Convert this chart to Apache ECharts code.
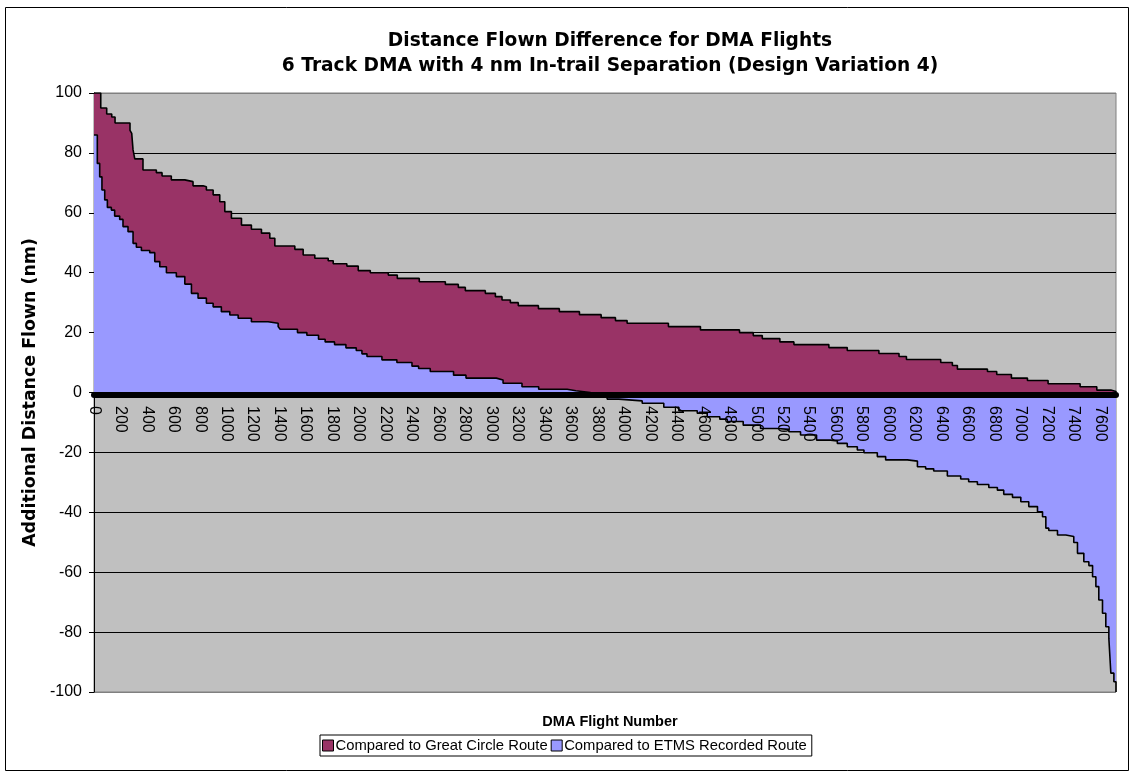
<!DOCTYPE html>
<html>
<head>
<meta charset="utf-8">
<script src="https://cdn.jsdelivr.net/npm/echarts@6/dist/echarts.min.js"></script>
<style>
  html, body { margin: 0; padding: 0; background: #fff; }
  #chart { width: 1138px; height: 778px; }
</style>
</head>
<body>
<div id="chart"></div>
<script>
// step corners: flight number -> additional distance (nm)
const gcFlights = [0, 51, 96, 134, 159, 272, 285, 295, 308, 370, 471, 514, 584, 686, 748, 824, 849, 900, 950, 988,
  1038, 1114, 1189, 1265, 1328, 1366, 1517, 1580, 1668, 1769, 1807, 1910, 1996, 2087, 2223, 2291, 2457, 2654, 2752, 2805,
  2956, 3032, 3082, 3145, 3205, 3357, 3515, 3667, 3831, 3939, 4027, 4339, 4581, 4876, 4980, 5048, 5181, 5287, 5551, 5690,
  5929, 6081, 6137, 6396, 6484, 6522, 6749, 6819, 6930, 7051, 7207, 7449, 7575, 7681, 7720];
const gcValues = [100, 95, 93, 92, 90, 87.5, 86.5, 81, 78, 74.3, 73.4, 72.3, 71, 70.4, 69, 68.7, 67.6, 66, 63.7, 60.4,
  58.2, 55.9, 54.5, 53.2, 51.5, 48.9, 47.8, 45.9, 44.8, 44, 43, 42.2, 40.7, 40, 39.2, 38.1, 37, 36.1, 35.1, 34,
  33.1, 32, 30.9, 30, 29, 28, 27, 26, 25, 24, 23.1, 22, 20.9, 20, 19, 18, 16.9, 16, 15, 14,
  13, 12, 11, 10, 9, 7.8, 7, 6, 4.8, 4, 2.9, 1.9, 0.8, 0.3, 0];

const etmsFlights = [0, 25, 43, 60, 81, 101, 131, 156, 194, 219, 257, 295, 320, 358, 421, 459, 497, 547, 622, 686,
  736, 786, 849, 900, 962, 1026, 1089, 1189, 1315, 1391, 1406, 1537, 1608, 1696, 1746, 1817, 1903, 1981, 2024, 2062,
  2175, 2288, 2402, 2452, 2540, 2716, 2810, 3039, 3090, 3233, 3359, 3574, 3640, 3750, 3876, 3964, 4141, 4304, 4418, 4557,
  4632, 4727, 4783, 4904, 5035, 5161, 5249, 5337, 5458, 5564, 5615, 5690, 5766, 5816, 5917, 5980, 6144, 6220, 6282, 6343,
  6446, 6547, 6607, 6673, 6759, 6824, 6872, 6938, 7001, 7061, 7127, 7165, 7190, 7212, 7278, 7341, 7401, 7429, 7477, 7515,
  7543, 7568, 7590, 7618, 7643, 7666, 7681, 7704, 7720];
const etmsValues = [86, 76.5, 72, 67.6, 64.3, 61.8, 60.9, 58.9, 57.8, 55.4, 53.7, 49.8, 48.5, 47.4, 46.7, 43.7, 42, 40, 38.7, 36.2,
  33.1, 31.5, 29.8, 28.6, 27, 25.9, 24.8, 23.6, 23.1, 22, 21.1, 20, 19.1, 17.8, 16.9, 16, 14.9, 14, 12.9, 12,
  10.9, 10, 8.8, 8, 7, 5.8, 4.8, 4.2, 3.1, 1.9, 1.1, 0.6, 0, -1, -2.2, -2.8, -3.6, -4.9, -6.1, -6.9,
  -8.1, -8.9, -9.7, -10.9, -12, -12.3, -13.1, -14.2, -15.9, -16.2, -17, -18.1, -19.2, -20.1, -21.4, -22.5, -22.9, -24.8, -25.5, -26.2,
  -27.9, -28.9, -29.8, -30.7, -31.7, -32.6, -34, -35, -36.5, -38.1, -39.8, -41.5, -45.3, -46.1, -47.6, -48.1, -50.1, -53.7, -56.5, -57.8,
  -61.5, -64.8, -69.3, -73.7, -78.2, -82.1, -93.7, -96.6, -100];

const seriesNames = ['Compared to Great Circle Route', 'Compared to ETMS Recorded Route'];
const flightMax = 7720;

const font = '"Liberation Sans", Arial, sans-serif';
const wideFont = '"DejaVu Sans", "Liberation Sans", Arial, sans-serif';
const chart = echarts.init(document.getElementById('chart'));

const pairs = (xs, ys) => xs.map((x, i) => [x, ys[i]]);

// gray plot edge at -100 and 100, black gridlines between
const gridColors = ['#808080', '#000', '#000', '#000', '#000', '#000', '#000', '#000', '#000', '#000', '#808080'];

const option = {
  backgroundColor: '#ffffff',
  animation: false,
  textStyle: { fontFamily: font },
  title: [
    {
      text: 'Distance Flown Difference for DMA Flights\n6 Track DMA with 4 nm In-trail Separation (Design Variation 4)',
      left: 605,
      top: 24,
      textAlign: 'center',
      textStyle: { fontFamily: wideFont, fontSize: 18.6, fontWeight: 'bold', color: '#000', lineHeight: 25 }
    },
    {
      text: 'DMA Flight Number',
      left: 605,
      top: 709,
      textAlign: 'center',
      textStyle: { fontFamily: font, fontSize: 14.5, fontWeight: 'bold', color: '#000' }
    }
  ],
  legend: {
    data: seriesNames,
    left: 320,
    top: 735,
    icon: 'rect',
    itemWidth: 11,
    itemHeight: 11,
    itemGap: 3,
    padding: [3, 5, 3, 2],
    borderColor: '#000',
    borderWidth: 1,
    itemStyle: { borderColor: '#000', borderWidth: 1 },
    textStyle: { fontFamily: font, fontSize: 14.8, color: '#000', padding: [0, 0, 0, -3] }
  },
  grid: {
    left: 94,
    right: 22,
    top: 93,
    bottom: 86,
    show: true,
    backgroundColor: '#c0c0c0',
    borderColor: '#808080',
    borderWidth: 1
  },
  xAxis: {
    type: 'value',
    min: 0,
    max: flightMax,
    interval: 200,
    position: 'bottom',
    offset: -297,
    z: 10,
    axisLine: { onZero: false, lineStyle: { color: '#000', width: 6 } },
    axisTick: { show: false },
    splitLine: { show: false },
    axisLabel: {
      rotate: -90,
      margin: 11,
      showMaxLabel: false,
      hideOverlap: false,
      fontFamily: font,
      fontSize: 16,
      color: '#000',
      formatter: v => String(v)
    }
  },
  yAxis: {
    type: 'value',
    min: -100,
    max: 100,
    interval: 20,
    name: 'Additional Distance Flown (nm)',
    nameLocation: 'middle',
    nameGap: 50,
    nameTextStyle: { fontFamily: wideFont, fontSize: 17.4, fontWeight: 'bold', color: '#000' },
    axisLine: { show: true, lineStyle: { color: '#000', width: 1 } },
    axisTick: { show: true, length: 5, lineStyle: { color: '#000' } },
    splitLine: { show: true, lineStyle: { color: gridColors, width: 1 } },
    axisLabel: { fontFamily: font, fontSize: 16, color: '#000', margin: 12 }
  },
  graphic: [
    {
      type: 'rect',
      silent: true,
      shape: { x: 5.5, y: 7.5, width: 1123, height: 763 },
      style: { fill: null, stroke: '#000', lineWidth: 1 }
    }
  ],
  series: [
    {
      name: seriesNames[0],
      type: 'line',
      step: 'end',
      showSymbol: false,
      data: pairs(gcFlights, gcValues),
      itemStyle: { color: '#993366' },
      lineStyle: { color: '#000', width: 1.6 },
      areaStyle: { color: '#993366', opacity: 1 },
      z: 2
    },
    {
      name: seriesNames[1],
      type: 'line',
      step: 'end',
      showSymbol: false,
      data: pairs(etmsFlights, etmsValues),
      itemStyle: { color: '#9999ff' },
      lineStyle: { color: '#000', width: 1.6 },
      areaStyle: { color: '#9999ff', opacity: 1 },
      z: 3
    }
  ]
};

chart.setOption(option);
</script>
</body>
</html>
